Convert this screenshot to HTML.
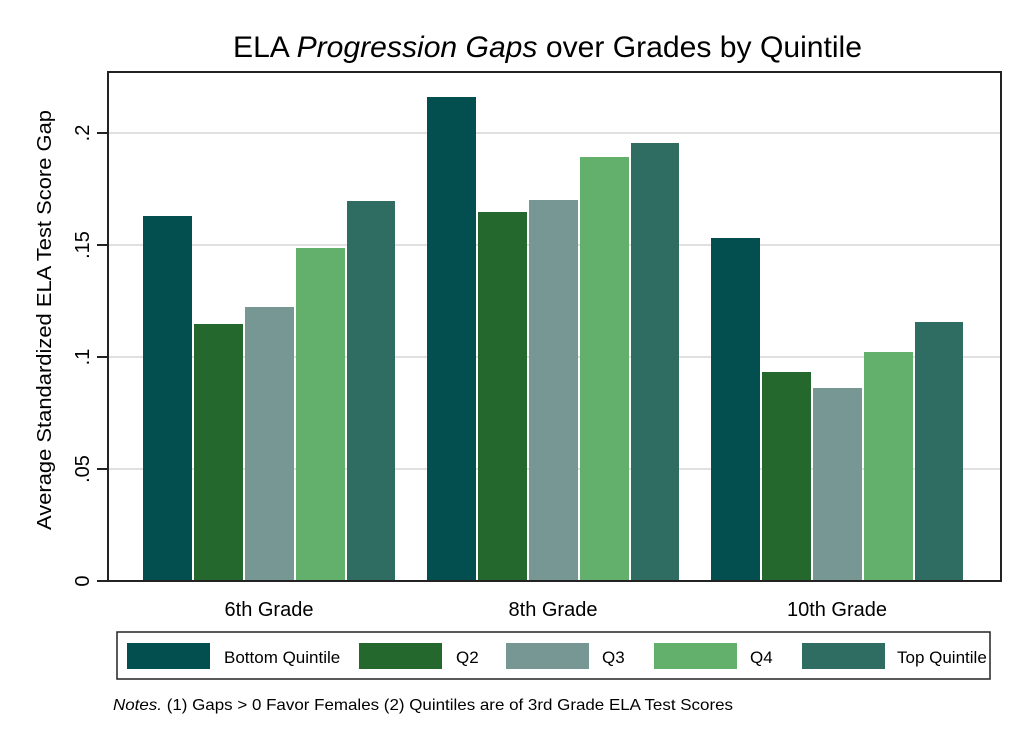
<!DOCTYPE html>
<html><head><meta charset="utf-8"><style>
html,body{margin:0;padding:0;background:#fff}
svg{display:block;font-family:"Liberation Sans",Arial,sans-serif}
</style></head><body>
<svg width="1024" height="745" viewBox="0 0 1024 745" xmlns="http://www.w3.org/2000/svg">
<rect width="1024" height="745" fill="#fff"/>
<text x="233" y="57" font-size="30" textLength="629" lengthAdjust="spacingAndGlyphs" fill="#000">ELA <tspan font-style="italic">Progression Gaps</tspan> over Grades by Quintile</text>
<g stroke="#e0e0e0" stroke-width="2">
<line x1="109" x2="1000" y1="133" y2="133"/>
<line x1="109" x2="1000" y1="245" y2="245"/>
<line x1="109" x2="1000" y1="357" y2="357"/>
<line x1="109" x2="1000" y1="469" y2="469"/>
</g>
<g>
<rect x="143" y="216" width="49" height="365" fill="#034f4f"/>
<rect x="194" y="324" width="49" height="257" fill="#25682e"/>
<rect x="245" y="307" width="49" height="274" fill="#769794"/>
<rect x="296" y="248" width="49" height="333" fill="#62b06b"/>
<rect x="347" y="201" width="48" height="380" fill="#2f6d62"/>
<rect x="427" y="97" width="49" height="484" fill="#034f4f"/>
<rect x="478" y="212" width="49" height="369" fill="#25682e"/>
<rect x="529" y="200" width="49" height="381" fill="#769794"/>
<rect x="580" y="157" width="49" height="424" fill="#62b06b"/>
<rect x="631" y="143" width="48" height="438" fill="#2f6d62"/>
<rect x="711" y="238" width="49" height="343" fill="#034f4f"/>
<rect x="762" y="372" width="49" height="209" fill="#25682e"/>
<rect x="813" y="388" width="49" height="193" fill="#769794"/>
<rect x="864" y="352" width="49" height="229" fill="#62b06b"/>
<rect x="915" y="322" width="48" height="259" fill="#2f6d62"/>
</g>
<rect x="108" y="72" width="893" height="509" fill="none" stroke="#222" stroke-width="2"/>
<g stroke="#222" stroke-width="2">
<line x1="97" x2="108" y1="133" y2="133"/>
<line x1="97" x2="108" y1="245" y2="245"/>
<line x1="97" x2="108" y1="357" y2="357"/>
<line x1="97" x2="108" y1="469" y2="469"/>
<line x1="97" x2="108" y1="581" y2="581"/>
</g>
<g font-size="20" fill="#000" text-anchor="middle">
<text transform="translate(89,133) rotate(-90)">.2</text>
<text transform="translate(89,245) rotate(-90)">.15</text>
<text transform="translate(89,357) rotate(-90)">.1</text>
<text transform="translate(89,469) rotate(-90)">.05</text>
<text transform="translate(89,581) rotate(-90)">0</text>
<text transform="translate(51,320) rotate(-90)" textLength="420" lengthAdjust="spacingAndGlyphs">Average Standardized ELA Test Score Gap</text>
<text x="269" y="616">6th Grade</text>
<text x="553" y="616">8th Grade</text>
<text x="837" y="616">10th Grade</text>
</g>
<rect x="117" y="632" width="873" height="47" fill="#fff" stroke="#222" stroke-width="1.5"/>
<g font-size="17" fill="#000">
<rect x="127" y="643" width="83" height="26" fill="#034f4f"/><text x="224" y="663">Bottom Quintile</text>
<rect x="359" y="643" width="83" height="26" fill="#25682e"/><text x="456" y="663">Q2</text>
<rect x="506" y="643" width="83" height="26" fill="#769794"/><text x="602" y="663">Q3</text>
<rect x="654" y="643" width="83" height="26" fill="#62b06b"/><text x="750" y="663">Q4</text>
<rect x="802" y="643" width="83" height="26" fill="#2f6d62"/><text x="897" y="663">Top Quintile</text>
</g>
<text x="113" y="710" font-size="16" fill="#000" textLength="620" lengthAdjust="spacingAndGlyphs"><tspan font-style="italic">Notes.</tspan> (1) Gaps &gt; 0 Favor Females (2) Quintiles are of 3rd Grade ELA Test Scores</text>
</svg>
</body></html>
